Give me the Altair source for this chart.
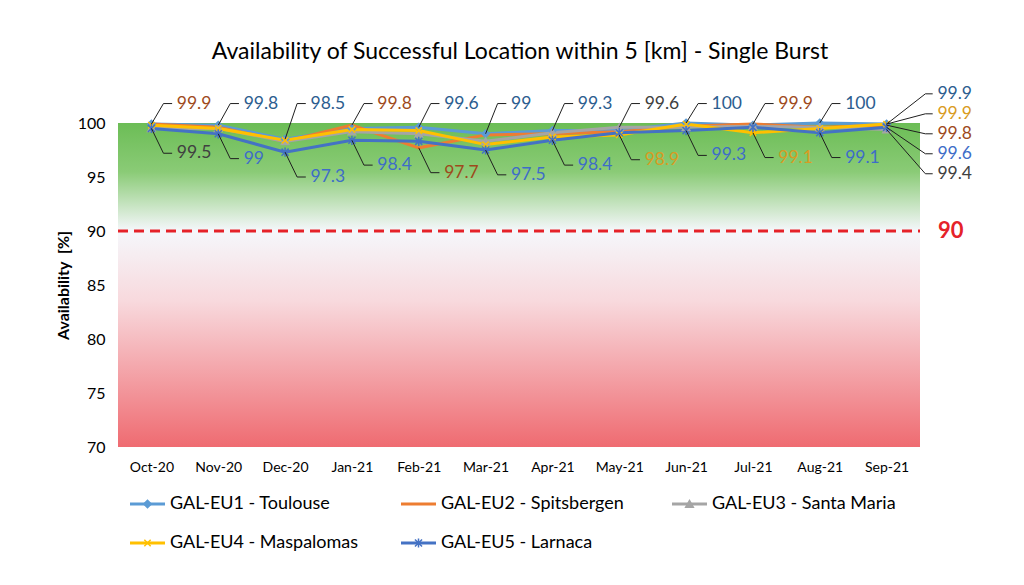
import altair as alt
import pandas as pd

months = ["Oct-20", "Nov-20", "Dec-20", "Jan-21", "Feb-21", "Mar-21",
          "Apr-21", "May-21", "Jun-21", "Jul-21", "Aug-21", "Sep-21"]

series_names = ["GAL-EU1 - Toulouse", "GAL-EU2 - Spitsbergen", "GAL-EU3 - Santa Maria",
                "GAL-EU4 - Maspalomas", "GAL-EU5 - Larnaca"]

eu1 = [99.9, 99.8, 98.5, 99.5, 99.6, 99.0, 99.3, 99.3, 100.0, 99.8, 100.0, 99.9]
eu2 = [99.9, 99.6, 98.3, 99.8, 97.7, 98.9, 99.0, 99.2, 99.7, 99.9, 99.6, 99.8]
eu3 = [99.5, 99.5, 98.3, 99.2, 99.0, 98.3, 99.1, 99.6, 99.6, 99.7, 99.6, 99.4]
eu4 = [99.8, 99.5, 98.4, 99.4, 99.3, 98.0, 98.7, 98.9, 99.9, 99.1, 99.5, 99.9]
eu5 = [99.5, 99.0, 97.3, 98.4, 98.3, 97.5, 98.4, 99.1, 99.3, 99.6, 99.1, 99.6]
values = [eu1, eu2, eu3, eu4, eu5]

threshold = 90

# annotated points: (month index, series index, placement)
annotations = [
    (0, 1, "up"), (0, 2, "down"),
    (1, 0, "up"), (1, 4, "down"),
    (2, 0, "up"), (2, 4, "down"),
    (3, 1, "up"), (3, 4, "down"),
    (4, 0, "up"), (4, 1, "down"),
    (5, 0, "up"), (5, 4, "down"),
    (6, 0, "up"), (6, 4, "down"),
    (7, 2, "up"), (7, 3, "down"),
    (8, 0, "up"), (8, 4, "down"),
    (9, 1, "up"), (9, 3, "down"),
    (10, 0, "up"), (10, 4, "down"),
    (11, 0, "right"), (11, 3, "right"), (11, 1, "right"), (11, 4, "right"), (11, 2, "right"),
]

line_colors = ["#5B9BD5", "#ED7D31", "#A5A5A5", "#FFC000", "#4472C4"]
label_colors = ["#2C5D8F", "#9E4A1C", "#404040", "#D99B22", "#3E6DC8"]
X_PATH = "M-1,-1L1,1M-1,1L1,-1"
STAR_PATH = "M-1,-1L1,1M-1,1L1,-1M0,-1.3L0,1.3"
markers = [
    dict(shape="diamond", filled=True, size=45),
    None,
    dict(shape="triangle-up", filled=True, size=45),
    dict(shape=X_PATH, filled=False, size=40, strokeWidth=1.5),
    dict(shape=STAR_PATH, filled=False, size=50, strokeWidth=1.5),
]

FONT = "Lato"
W, H = 802, 324

xscale = alt.Scale(domain=[-0.5, 11.5], nice=False, zero=False)
yscale = alt.Scale(domain=[70, 100], nice=False, zero=False)
label_expr = "[" + ",".join("'%s'" % m for m in months) + "][datum.value]"

one = pd.DataFrame({"a": [0]})

gradient = alt.LinearGradient(
    gradient="linear", x1=0, x2=0, y1=0, y2=1,
    stops=[
        alt.GradientStop(offset=0.0, color="#6CBD56"),
        alt.GradientStop(offset=0.15, color="#8ACB76"),
        alt.GradientStop(offset=0.333, color="#F5F7FB"),
        alt.GradientStop(offset=0.55, color="#F8D9DD"),
        alt.GradientStop(offset=1.0, color="#EF6B71"),
    ],
)

bg = alt.Chart(one).mark_rect(fill=gradient).encode(
    x=alt.X(datum=-0.5, type="quantitative", scale=xscale,
            axis=alt.Axis(values=list(range(12)), labelExpr=label_expr, title=None,
                          labelFontSize=14, labelFont=FONT, labelColor="#000000",
                          labelPadding=13, ticks=False, domain=False, grid=False)),
    x2=alt.datum(11.5),
    y=alt.Y(datum=100, type="quantitative", scale=yscale,
            axis=alt.Axis(values=[70, 75, 80, 85, 90, 95, 100], title="Availability\u00a0\u00a0[%]",
                          titleFont=FONT, titleFontSize=16, titleFontWeight="bold",
                          titleColor="#000000", titlePadding=6,
                          labelFontSize=16, labelFont=FONT, labelColor="#000000",
                          labelPadding=13, ticks=False, domain=False, grid=False)),
    y2=alt.datum(70),
)

rule90 = alt.Chart(one).mark_rule(color="#E52229", strokeWidth=3, strokeDash=[10, 6]).encode(
    x=alt.datum(-0.5), x2=alt.datum(11.5), y=alt.datum(threshold)
)
label90 = alt.Chart(one).mark_text(
    align="left", baseline="middle", font=FONT, fontSize=22, fontWeight="bold", color="#E52229"
).encode(x=alt.datum(11.77), y=alt.datum(threshold), text=alt.value(str(threshold)))

layers = [bg, rule90, label90]

for i, name in enumerate(series_names):
    df = pd.DataFrame({"m": list(range(12)), "v": values[i]})
    base = alt.Chart(df).encode(x="m:Q", y="v:Q")
    layers.append(base.mark_line(color=line_colors[i], strokeWidth=3))
for i, name in enumerate(series_names):
    if markers[i] is None:
        continue
    df = pd.DataFrame({"m": list(range(12)), "v": values[i]})
    mk = dict(markers[i])
    if mk["filled"]:
        mk["fill"] = line_colors[i]
        mk["stroke"] = line_colors[i]
    else:
        mk["stroke"] = line_colors[i]
    layers.append(alt.Chart(df).mark_point(opacity=1, **mk).encode(x="m:Q", y="v:Q"))

# leader lines and labels (positions derived from data values)
lead_rows, text_rows = [], []
right_count = 0
for k, (m, s, place) in enumerate(annotations):
    v = values[s][m]
    if place == "up":
        ly = 101.8
        pts = [(m, v), (m + 0.18, ly), (m + 0.31, ly)]
        tx = m + 0.38
    elif place == "down":
        ly = v - 2.3
        pts = [(m, v), (m + 0.18, ly), (m + 0.31, ly)]
        tx = m + 0.38
    else:
        ly = 102.7 - 1.85 * right_count
        right_count += 1
        pts = [(m, v), (m + 0.58, ly), (m + 0.69, ly)]
        tx = m + 0.76
    for j, (px, py) in enumerate(pts):
        lead_rows.append({"id": k, "k": j, "x": px, "y": py})
    text_rows.append({"x": tx, "y": ly, "t": ("%g" % v), "c": label_colors[s]})

leaders = alt.Chart(pd.DataFrame(lead_rows)).mark_line(color="#1F1F1F", strokeWidth=1).encode(
    x="x:Q", y="y:Q", detail="id:N", order="k:Q"
)
texts = alt.Chart(pd.DataFrame(text_rows)).mark_text(
    align="left", baseline="middle", font=FONT, fontSize=17.5
).encode(x="x:Q", y="y:Q", text="t:N", color=alt.Color("c:N", scale=None))
layers += [leaders, texts]

# title
layers.append(alt.Chart(one).mark_text(
    align="center", baseline="middle", font=FONT, fontSize=23, color="#000000"
).encode(x=alt.value(W / 2 + 1), y=alt.value(-71),
         text=alt.value("Availability of Successful Location within 5 [km] - Single Burst")))

# legend
for i, name in enumerate(series_names):
    col, row = i % 3, i // 3
    lx = 12 + col * 271
    ly = 381 + row * 39
    layers.append(alt.Chart(one).mark_rule(color=line_colors[i], strokeWidth=3).encode(
        x=alt.value(lx), x2=alt.value(lx + 35), y=alt.value(ly)))
    if markers[i] is not None:
        mk = dict(markers[i])
        if mk["filled"]:
            mk["fill"] = line_colors[i]
            mk["stroke"] = line_colors[i]
        else:
            mk["stroke"] = line_colors[i]
        layers.append(alt.Chart(one).mark_point(opacity=1, **mk).encode(
            x=alt.value(lx + 17.5), y=alt.value(ly)))
    layers.append(alt.Chart(one).mark_text(
        align="left", baseline="middle", font=FONT, fontSize=18, color="#000000"
    ).encode(x=alt.value(lx + 40), y=alt.value(ly), text=alt.value(name)))

chart = alt.layer(*layers).properties(
    width=W, height=H,
    autosize=alt.AutoSizeParams(type="none"),
    padding={"left": 118, "top": 123, "right": 104, "bottom": 138},
    background="#FFFFFF",
).configure_view(stroke=None)

chart.save("out.html", embed_options={"renderer": "svg", "actions": False})
